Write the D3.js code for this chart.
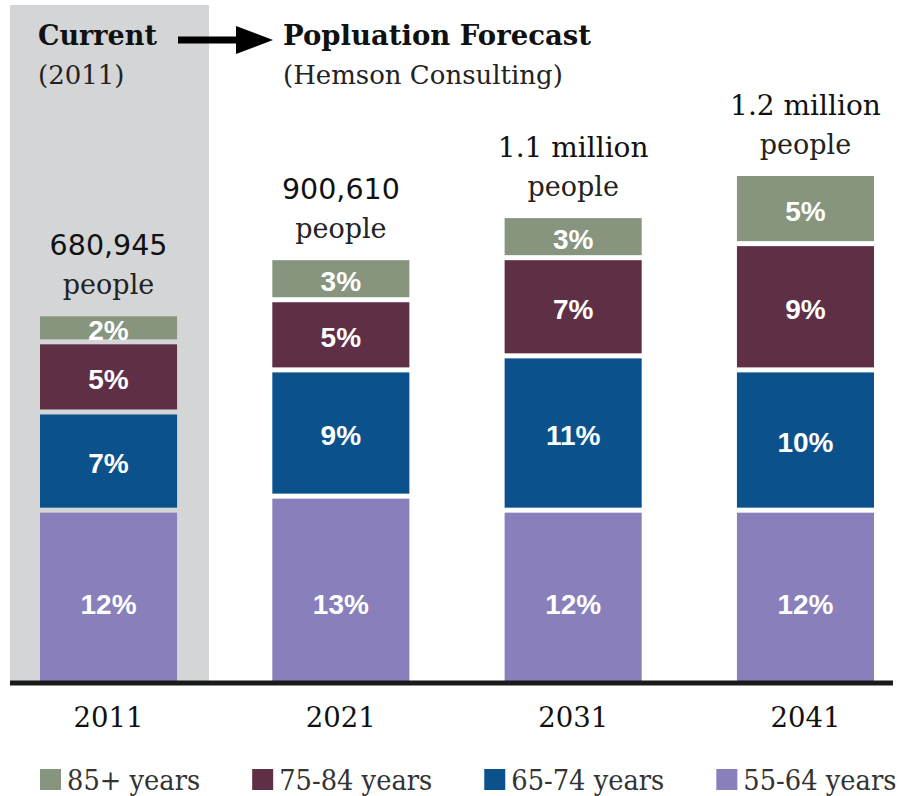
<!DOCTYPE html>
<html>
<head>
<meta charset="utf-8">
<script src="https://cdn.jsdelivr.net/npm/d3@7"></script>
<style>
  html, body { margin: 0; padding: 0; background: #ffffff; }
  svg { display: block; }
  .slab { font-family: "DejaVu Serif", serif; }
</style>
</head>
<body>
<svg id="chart" width="901" height="796"></svg>
<script>
// Census years and forecast years
const years = ["2011", "2021", "2031", "2041"];

// Age groups, stacked bottom to top
const ageGroups = ["55-64 years", "65-74 years", "75-84 years", "85+ years"];

// Share of total population per age group (%)
const share5564 = [12, 13, 12, 12];
const share6574 = [7, 9, 11, 10];
const share7584 = [5, 5, 7, 9];
const share85 = [2, 3, 3, 5];

// Total population headline per year
const totalTop = ["680,945", "900,610", "1.1 million", "1.2 million"];
const totalBottom = ["people", "people", "people", "people"];

// Legend order (left to right)
const legendOrder = ["85+ years", "75-84 years", "65-74 years", "55-64 years"];

const colors = {
  "55-64 years": "#887fbb",
  "65-74 years": "#0b528d",
  "75-84 years": "#5e2f45",
  "85+ years": "#87957f"
};

const svg = d3.select("#chart");

const rows = years.map((yr, i) => ({
  year: yr,
  "55-64 years": share5564[i],
  "65-74 years": share6574[i],
  "75-84 years": share7584[i],
  "85+ years": share85[i],
  top: totalTop[i],
  bottom: totalBottom[i]
}));

const series = d3.stack().keys(ageGroups)(rows);

const x = d3.scaleBand().domain(years).range([40, 874]).paddingInner(0.41).paddingOuter(0);
const y = d3.scaleLinear().domain([0, 36]).range([681, 176]);
const gap = 5;

// Shaded panel behind the current (census) year
svg.append("rect")
  .attr("x", 10).attr("y", 5)
  .attr("width", 199).attr("height", y(0) - 5)
  .attr("fill", "#d4d5d7");

// Stacked bars
const layer = svg.append("g").selectAll("g")
  .data(series)
  .join("g")
  .attr("fill", d => colors[d.key]);

const segBottom = s => y(s[0]) - (s[0] > 0 ? gap : 0);

layer.selectAll("rect")
  .data(d => d.map(s => ({ key: d.key, s })))
  .join("rect")
  .attr("x", d => x(d.s.data.year))
  .attr("width", x.bandwidth())
  .attr("y", d => y(d.s[1]))
  .attr("height", d => segBottom(d.s) - y(d.s[1]));

// Percentage labels inside each segment (bottom row shares one line)
layer.selectAll("text")
  .data(d => d.map(s => ({ key: d.key, s })))
  .join("text")
  .attr("x", d => x(d.s.data.year) + x.bandwidth() / 2)
  .attr("y", d => d.s[0] === 0 ? y(5.5) : (segBottom(d.s) + y(d.s[1])) / 2 + 2)
  .attr("dy", "0.36em")
  .attr("text-anchor", "middle")
  .attr("fill", "#ffffff")
  .attr("font-family", "'Liberation Sans', Arial, sans-serif")
  .attr("font-weight", "bold")
  .attr("font-size", 28)
  .text(d => (d.s[1] - d.s[0]) + "%");

// Total population labels above each bar
const totals = svg.append("g").selectAll("g")
  .data(rows)
  .join("g")
  .attr("transform", d => {
    const top = y(d3.sum(ageGroups, k => d[k]));
    return `translate(${x(d.year) + x.bandwidth() / 2},${top})`;
  });

totals.append("text")
  .attr("y", -61)
  .attr("text-anchor", "middle")
  .attr("fill", "#111")
  .attr("font-size", d => d.top.includes("million") ? 28 : 28.5)
  .attr("font-family", d => d.top.includes("million") ? "'DejaVu Serif', serif" : "'DejaVu Sans', sans-serif")
  .text(d => d.top);

totals.append("text")
  .attr("y", -22)
  .attr("text-anchor", "middle")
  .attr("class", "slab")
  .attr("fill", "#222")
  .attr("font-size", 27)
  .text(d => d.bottom);

// Baseline
svg.append("line")
  .attr("x1", 10).attr("x2", 893)
  .attr("y1", y(0) + 2).attr("y2", y(0) + 2)
  .attr("stroke", "#1a1a1a")
  .attr("stroke-width", 5);

// Year labels
svg.append("g").selectAll("text")
  .data(years)
  .join("text")
  .attr("class", "slab")
  .attr("x", d => x(d) + x.bandwidth() / 2)
  .attr("y", 727)
  .attr("text-anchor", "middle")
  .attr("fill", "#111")
  .attr("font-size", 27.5)
  .text(d => d);

// Header: current vs forecast
svg.append("text")
  .attr("class", "slab")
  .attr("x", 38).attr("y", 45)
  .attr("font-size", 27).attr("font-weight", "bold")
  .attr("fill", "#111")
  .text("Current");
svg.append("text")
  .attr("class", "slab")
  .attr("x", 38).attr("y", 84)
  .attr("font-size", 26)
  .attr("fill", "#222")
  .text("(2011)");

svg.append("path")
  .attr("d", "M178,40 L242,40")
  .attr("stroke", "#000").attr("stroke-width", 7);
svg.append("path")
  .attr("d", "M236,26 L273,40 L236,54 Z")
  .attr("fill", "#000");

svg.append("text")
  .attr("class", "slab")
  .attr("x", 283).attr("y", 45)
  .attr("font-size", 27.5).attr("font-weight", "bold")
  .attr("fill", "#111")
  .text("Popluation Forecast");
svg.append("text")
  .attr("class", "slab")
  .attr("x", 283).attr("y", 84)
  .attr("font-size", 26)
  .attr("fill", "#222")
  .text("(Hemson Consulting)");

// Legend: swatch + slightly narrowed label, items laid out one after another
const legendStart = 40, swatch = 21, labelGap = 6, itemGap = 52, narrow = 0.92;
const leg = svg.append("g").selectAll("g")
  .data(legendOrder)
  .join("g");
leg.append("rect")
  .attr("y", 769)
  .attr("width", swatch).attr("height", 21)
  .attr("fill", d => colors[d]);
leg.append("text")
  .attr("class", "slab")
  .attr("transform", `translate(${swatch + labelGap},790) scale(${narrow},1)`)
  .attr("font-size", 28)
  .attr("fill", "#333")
  .text(d => d);

let cursor = legendStart;
leg.each(function () {
  const g = d3.select(this);
  g.attr("transform", `translate(${cursor},0)`);
  const w = g.select("text").node().getComputedTextLength() * narrow;
  cursor += swatch + labelGap + w + itemGap;
});
</script>
</body>
</html>
